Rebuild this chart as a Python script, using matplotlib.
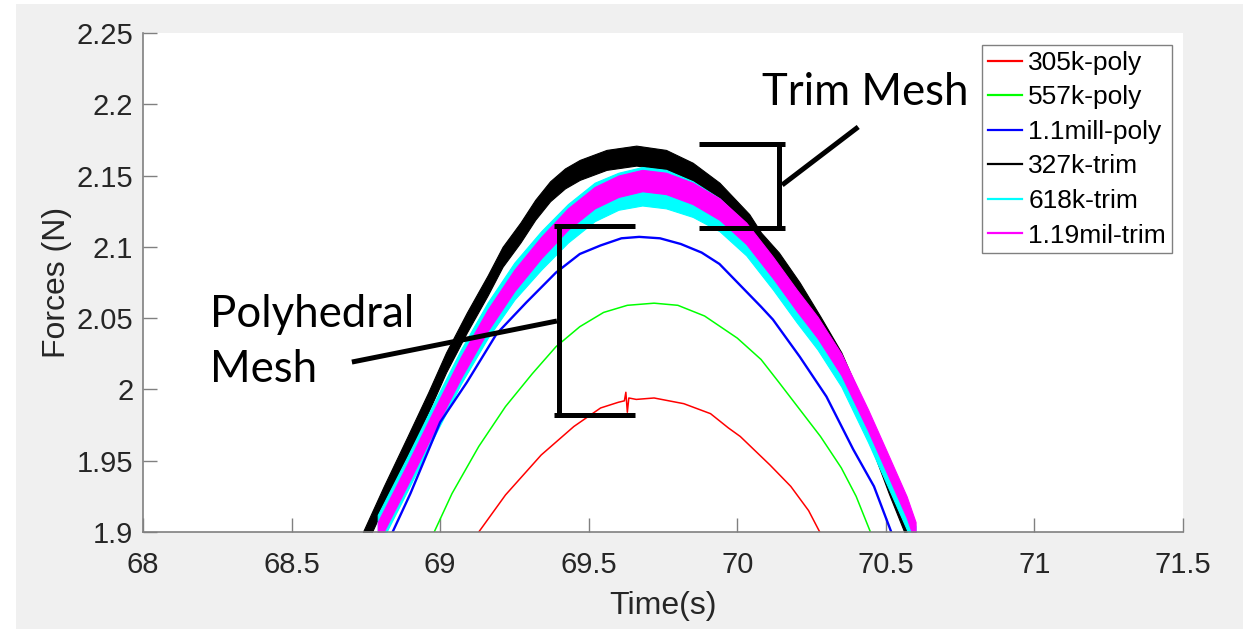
"""Forces over time for polyhedral and trimmed meshes."""

import matplotlib.pyplot as plt
from matplotlib.patches import Rectangle

# polyhedral meshes (thin lines)
time_305k_poly = [69.13, 69.22, 69.34, 69.45, 69.54, 69.60, 69.62, 69.625, 69.63, 69.635,
                  69.66, 69.72, 69.82, 69.91, 69.97, 70.01, 70.11, 70.18, 70.24, 70.28]
force_305k_poly = [1.900, 1.926, 1.954, 1.974, 1.987, 1.991, 1.992, 1.998, 1.984, 1.994,
                   1.993, 1.994, 1.990, 1.983, 1.973, 1.967, 1.947, 1.932, 1.915, 1.899]

time_557k_poly = [68.98, 69.04, 69.13, 69.22, 69.31, 69.39, 69.47, 69.55, 69.63, 69.72,
                  69.80, 69.89, 70.00, 70.08, 70.14, 70.21, 70.28, 70.35, 70.40, 70.45]
force_557k_poly = [1.900, 1.927, 1.960, 1.988, 2.011, 2.030, 2.044, 2.054, 2.059, 2.0605,
                   2.059, 2.0515, 2.036, 2.021, 2.005, 1.986, 1.967, 1.945, 1.925, 1.899]

time_11mill_poly = [68.84, 68.90, 69.00, 69.09, 69.19, 69.29, 69.39, 69.47, 69.54, 69.61,
                    69.67, 69.74, 69.81, 69.88, 69.94, 70.01, 70.08, 70.12, 70.21, 70.30,
                    70.39, 70.46, 70.52]
force_11mill_poly = [1.900, 1.927, 1.977, 2.005, 2.039, 2.061, 2.082, 2.095, 2.101, 2.106,
                     2.107, 2.106, 2.102, 2.096, 2.088, 2.073, 2.058, 2.049, 2.023, 1.995,
                     1.958, 1.932, 1.899]

# trimmed meshes: noisy signals, kept as upper / lower envelopes
time_327k_trim = [68.74, 68.81, 68.89, 68.96, 69.02, 69.09, 69.16, 69.21, 69.27, 69.32,
                  69.37, 69.42, 69.47, 69.56, 69.66, 69.76, 69.85, 69.94, 70.04, 70.08,
                  70.14, 70.21, 70.28, 70.35, 70.40, 70.46, 70.51, 70.56, 70.58]
force_327k_hi = [1.900, 1.932, 1.967, 1.998, 2.026, 2.054, 2.080, 2.100, 2.117, 2.133,
                 2.146, 2.155, 2.161, 2.168, 2.171, 2.168, 2.159, 2.145, 2.123, 2.110,
                 2.096, 2.075, 2.051, 2.026, 2.002, 1.969, 1.941, 1.915, 1.900]
force_327k_lo = [1.886, 1.918, 1.953, 1.984, 2.012, 2.040, 2.066, 2.086, 2.103, 2.119,
                 2.132, 2.141, 2.147, 2.154, 2.157, 2.154, 2.145, 2.131, 2.109, 2.096,
                 2.082, 2.061, 2.037, 2.012, 1.988, 1.955, 1.927, 1.901, 1.886]

time_618k_trim = [68.79, 68.89, 68.98, 69.07, 69.16, 69.25, 69.34, 69.43, 69.52, 69.60,
                  69.68, 69.76, 69.85, 69.94, 70.03, 70.12, 70.20, 70.27, 70.35, 70.44,
                  70.50, 70.57, 70.60]
force_618k_hi = [1.912, 1.953, 1.991, 2.028, 2.061, 2.089, 2.111, 2.130, 2.145, 2.152,
                 2.156, 2.154, 2.146, 2.134, 2.116, 2.091, 2.067, 2.048, 2.022, 1.983,
                 1.955, 1.922, 1.904]
force_618k_lo = [1.888, 1.929, 1.967, 2.004, 2.036, 2.063, 2.084, 2.103, 2.118, 2.126,
                 2.129, 2.127, 2.121, 2.111, 2.094, 2.070, 2.047, 2.028, 2.002, 1.963,
                 1.935, 1.902, 1.884]

time_119mil_trim = time_618k_trim
force_119mil_hi = [1.907, 1.948, 1.986, 2.023, 2.056, 2.084, 2.107, 2.127, 2.142, 2.150,
                   2.154, 2.152, 2.145, 2.134, 2.117, 2.093, 2.070, 2.051, 2.025, 1.986,
                   1.958, 1.925, 1.907]
force_119mil_lo = [1.892, 1.933, 1.971, 2.008, 2.041, 2.069, 2.092, 2.112, 2.127, 2.135,
                   2.139, 2.137, 2.130, 2.119, 2.102, 2.078, 2.055, 2.036, 2.010, 1.971,
                   1.943, 1.910, 1.892]

x_ticks = [68, 68.5, 69, 69.5, 70, 70.5, 71, 71.5]
y_ticks = [1.9, 1.95, 2.0, 2.05, 2.1, 2.15, 2.2, 2.25]

plt.rcParams["font.family"] = ["Liberation Sans", "DejaVu Sans"]
txt = "#262626"

W, H = 1246, 629
fig = plt.figure(figsize=(W / 100, H / 100), dpi=100)
fig.patches.append(Rectangle((16 / W, 0), 1227 / W, 625 / H, transform=fig.transFigure,
                             facecolor="#f0f0f0", edgecolor="none", zorder=-10))
ax = fig.add_axes([143 / W, 1 - 532 / H, 1040 / W, 499 / H])

ax.plot(time_305k_poly, force_305k_poly, color="#ff0000", lw=1.1, label="305k-poly")
ax.plot(time_557k_poly, force_557k_poly, color="#00ff00", lw=1.1, label="557k-poly")
ax.plot(time_11mill_poly, force_11mill_poly, color="#0000ff", lw=1.7, label="1.1mill-poly")

ax.fill_between(time_327k_trim, force_327k_lo, force_327k_hi, color="k", lw=0.8)
ax.plot([], [], color="k", label="327k-trim")
ax.fill_between(time_618k_trim, force_618k_lo, force_618k_hi, color="#00ffff", lw=0.8)
ax.plot([], [], color="#00ffff", label="618k-trim")
ax.fill_between(time_119mil_trim, force_119mil_lo, force_119mil_hi, color="#ff00ff", lw=0.8)
ax.plot([], [], color="#ff00ff", label="1.19mil-trim")

ax.set_xlim(68, 71.5)
ax.set_ylim(1.9, 2.25)
ax.set_xticks(x_ticks)
ax.set_xticklabels([f"{v:g}" for v in x_ticks])
ax.set_yticks(y_ticks)
ax.set_yticklabels([f"{v:g}" for v in y_ticks])
ax.tick_params(direction="in", length=10, width=1, color="#808080",
               labelsize=21, labelcolor=txt)
ax.tick_params(axis="x", pad=14)
ax.tick_params(axis="y", pad=7)
for side in ("top", "right"):
    ax.spines[side].set_visible(False)
for side in ("left", "bottom"):
    ax.spines[side].set_color("#808080")
    ax.spines[side].set_linewidth(1.2)

ax.set_xlabel("Time(s)", fontsize=23, color=txt, labelpad=8)
ax.set_ylabel("Forces (N)", fontsize=23, color=txt, labelpad=3)

leg = ax.legend(loc="upper right", bbox_to_anchor=(1029 / 1040, 487 / 499),
                borderaxespad=0, fontsize=19, handlelength=1.3, handletextpad=0.23,
                labelspacing=0.4, borderpad=0.22, fancybox=False, framealpha=1)
leg.get_frame().set_edgecolor("#808080")
leg.get_frame().set_linewidth(1.0)
for h in leg.get_lines():
    h.set_linewidth(1.6)

# brackets and call-outs
ann = dict(color="k", lw=3.6, solid_capstyle="butt", zorder=5)
note_font = dict(family=["Lato", "DejaVu Sans"], fontsize=31.5, color="k")

ax.plot([69.871, 70.161], [2.1721, 2.1721], **ann)
ax.plot([69.871, 70.161], [2.1132, 2.1132], **ann)
ax.plot([70.141, 70.141], [2.1738, 2.1115], **ann)
ax.plot([70.151, 70.407], [2.1434, 2.1841], **ann)
ax.text(70.083, 2.1995, "Trim Mesh", va="baseline", **note_font)

ax.plot([69.383, 69.656], [2.1146, 2.1146], **ann)
ax.plot([69.383, 69.656], [1.9821, 1.9821], **ann)
ax.plot([69.400, 69.400], [2.1163, 1.9804], **ann)
ax.plot([69.393, 68.703], [2.048, 2.0192], **ann)
ax.text(68.2255, 2.0438, "Polyhedral", va="baseline", **note_font)
ax.text(68.2255, 2.0052, "Mesh", va="baseline", **note_font)

fig.savefig("out.png", dpi=100)
